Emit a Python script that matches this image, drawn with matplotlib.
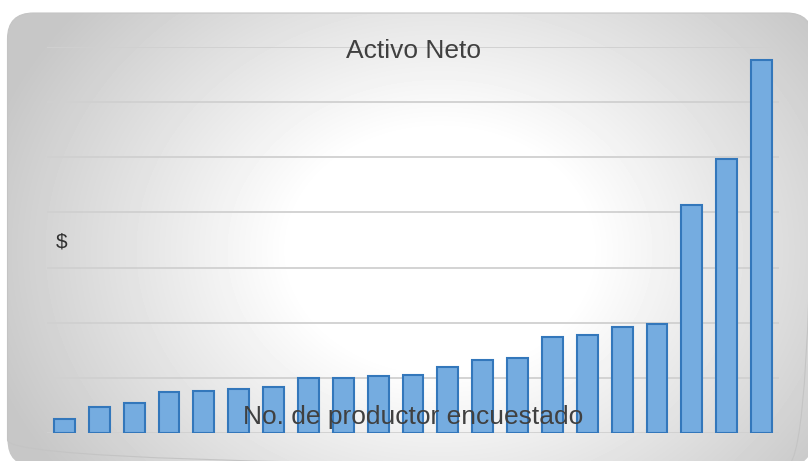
import numpy as np
import matplotlib
matplotlib.use('Agg')
import matplotlib.pyplot as plt
from matplotlib.patches import FancyBboxPatch

# activo neto por productor (escala sin etiquetas en el original)
productores = list(range(1, 22))
activo_neto = [12500, 24000, 27500, 37000, 38500, 40500, 41500, 50000, 50500, 51500, 52500,
               60000, 66500, 68000, 87000, 89000, 96500, 99000, 206500, 248000, 338000]
y_ticks = list(range(0, 350001, 50000))

plt.rcParams['font.family'] = ['Liberation Sans', 'DejaVu Sans']
W, H = 808, 461
fig = plt.figure(figsize=(W / 100, H / 100), dpi=100, facecolor='white')

# fondo: panel redondeado con degradado radial
bg = fig.add_axes([0, 0, 1, 1], zorder=-1)
bg.set_xlim(0, W)
bg.set_ylim(H, 0)
bg.axis('off')
xx, yy = np.meshgrid(np.arange(W) + 0.5, np.arange(H) + 0.5)
d = np.sqrt(((xx - 440) / 1.0) ** 2 + ((yy - 250) / 0.8) ** 2)
shade = 1.0 - 0.22 * np.clip((d - 150) / 320, 0, 1)
img = bg.imshow(shade, cmap='gray', vmin=0, vmax=1, extent=(0, W, H, 0), interpolation='bilinear')
panel = FancyBboxPatch((7.5, 13), 805, 453, boxstyle='round,pad=0,rounding_size=26',
                       facecolor='none', edgecolor='#c4c4c4', linewidth=0.8)
bg.add_patch(panel)
img.set_clip_path(panel)

ax = fig.add_axes([47 / W, 1 - 433.3 / H, 732 / W, (433.3 - 46.7) / H])
ax.set_facecolor('none')
ax.bar(range(len(productores)), activo_neto, width=0.6, color='#75ace0',
       edgecolor='#3377bb', linewidth=1.5, zorder=3)
ax.set_xlim(-0.5, len(productores) - 0.5)
ax.set_ylim(0, 350000)
ax.set_yticks(y_ticks)
ax.set_xticks([])
ax.tick_params(left=False, labelleft=False)
ax.grid(axis='y', color='#d0d0d0', linewidth=1.3, zorder=0)
for s in ax.spines.values():
    s.set_visible(False)

fig.text(413 / W, 1 - 57.7 / H, 'Activo Neto', ha='center', va='baseline',
         fontsize=19, color='#404040')
fig.text(413 / W, 1 - 424 / H, 'No. de productor encuestado', ha='center', va='baseline',
         fontsize=19, color='#404040', zorder=5)
fig.text(62 / W, 1 - 241.7 / H, '$', ha='center', va='center',
         fontsize=15, color='#303030')

fig.savefig('out.png', dpi=100)
